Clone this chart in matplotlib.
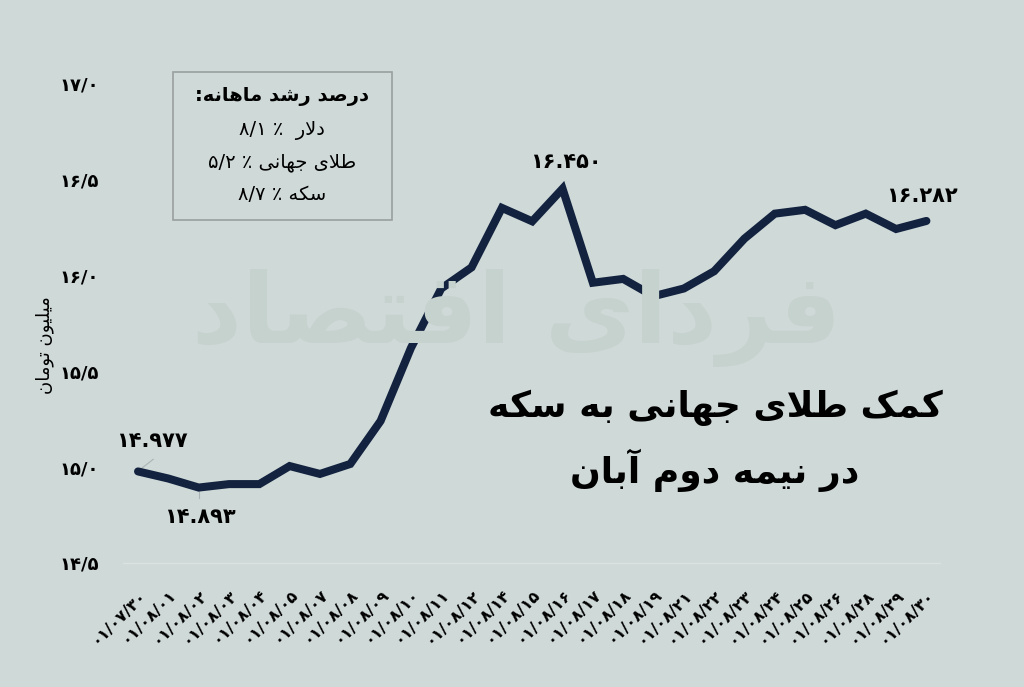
import re
import matplotlib
matplotlib.use("Agg")
import matplotlib.pyplot as plt
from matplotlib.patches import Rectangle

# simple Persian shaping (matplotlib 3.10 draws no joined Arabic script)
FORMS = {
    'ا': (0xFE8D, 0xFE8E), 'آ': (0xFE81, 0xFE82),
    'د': (0xFEA9, 0xFEAA), 'ر': (0xFEAD, 0xFEAE), 'و': (0xFEED, 0xFEEE),
    'ب': (0xFE8F, 0xFE90, 0xFE91, 0xFE92), 'ت': (0xFE95, 0xFE96, 0xFE97, 0xFE98),
    'ج': (0xFE9D, 0xFE9E, 0xFE9F, 0xFEA0), 'س': (0xFEB1, 0xFEB2, 0xFEB3, 0xFEB4),
    'ش': (0xFEB5, 0xFEB6, 0xFEB7, 0xFEB8), 'ص': (0xFEB9, 0xFEBA, 0xFEBB, 0xFEBC),
    'ط': (0xFEC1, 0xFEC2, 0xFEC3, 0xFEC4), 'ف': (0xFED1, 0xFED2, 0xFED3, 0xFED4),
    'ق': (0xFED5, 0xFED6, 0xFED7, 0xFED8), 'ل': (0xFEDD, 0xFEDE, 0xFEDF, 0xFEE0),
    'م': (0xFEE1, 0xFEE2, 0xFEE3, 0xFEE4), 'ن': (0xFEE5, 0xFEE6, 0xFEE7, 0xFEE8),
    'ه': (0xFEE9, 0xFEEA, 0xFEEB, 0xFEEC), 'ی': (0xFBFC, 0xFBFD, 0xFBFE, 0xFBFF),
    'ک': (0xFB8E, 0xFB8F, 0xFB90, 0xFB91),
}


def fa(text):
    out = []
    i = 0
    n = len(text)
    while i < n:
        ch = text[i]
        if ch not in FORMS:
            out.append(ch)
            i += 1
            continue
        prev = text[i - 1] if i > 0 else ''
        prev_join = prev in FORMS and len(FORMS[prev]) == 4
        if ch == 'ل' and i + 1 < n and text[i + 1] == 'ا':
            out.append(chr(0xFEFC if prev_join else 0xFEFB))
            i += 2
            continue
        nxt = text[i + 1] if i + 1 < n else ''
        forms = FORMS[ch]
        next_join = len(forms) == 4 and nxt in FORMS
        if prev_join and next_join:
            out.append(chr(forms[3]))
        elif prev_join:
            out.append(chr(forms[1]))
        elif next_join:
            out.append(chr(forms[2]))
        else:
            out.append(chr(forms[0]))
        i += 1
    vis = ''.join(out)[::-1]
    return re.sub(r'[۰-۹][۰-۹/.]*[۰-۹]|[۰-۹]', lambda m: m.group()[::-1], vis)


dates = ['۰۱/۰۷/۳۰', '۰۱/۰۸/۰۱', '۰۱/۰۸/۰۲', '۰۱/۰۸/۰۳', '۰۱/۰۸/۰۴', '۰۱/۰۸/۰۵',
         '۰۱/۰۸/۰۷', '۰۱/۰۸/۰۸', '۰۱/۰۸/۰۹', '۰۱/۰۸/۱۰', '۰۱/۰۸/۱۱', '۰۱/۰۸/۱۲',
         '۰۱/۰۸/۱۴', '۰۱/۰۸/۱۵', '۰۱/۰۸/۱۶', '۰۱/۰۸/۱۷', '۰۱/۰۸/۱۸', '۰۱/۰۸/۱۹',
         '۰۱/۰۸/۲۱', '۰۱/۰۸/۲۲', '۰۱/۰۸/۲۳', '۰۱/۰۸/۲۴', '۰۱/۰۸/۲۵', '۰۱/۰۸/۲۶',
         '۰۱/۰۸/۲۸', '۰۱/۰۸/۲۹', '۰۱/۰۸/۳۰']
price = [14.977, 14.94, 14.893, 14.911, 14.911, 15.005, 14.964, 15.016, 15.24,
         15.62, 15.93, 16.04, 16.35, 16.28, 16.45, 15.96, 15.98, 15.89, 15.93,
         16.02, 16.19, 16.32, 16.34, 16.26, 16.32, 16.24, 16.282]
yticks = [14.5, 15.0, 15.5, 16.0, 16.5, 17.0]
ytick_labels = ['۱۴/۵', '۱۵/۰', '۱۵/۵', '۱۶/۰', '۱۶/۵', '۱۷/۰']

bg = '#cfd9d8'
navy = '#13233f'

plt.rcParams['font.family'] = 'DejaVu Sans'

fig = plt.figure(figsize=(10.24, 6.87), dpi=100, facecolor=bg)
ax = fig.add_axes([0.120, 0.1805, 0.798, 0.6985])
ax.set_facecolor('none')

# faint watermark
fig.text(0.505, 1 - 318 / 687, fa('فردای اقتصاد'), fontsize=70, color='#c6d2ce',
         ha='center', va='center', fontweight='bold', zorder=0)

x = list(range(len(price)))
ax.plot(x, price, color=navy, linewidth=5.8, solid_capstyle='round',
        solid_joinstyle='miter', zorder=3)

ax.set_xlim(-0.5, 26.45)
ax.set_ylim(14.5, 17.0)
ax.set_yticks(yticks)
ax.set_yticklabels(ytick_labels, fontsize=13, fontweight='bold')
ax.set_xticks(x)
ax.set_xticklabels(dates, rotation=45, ha='right', va='top',
                   rotation_mode='anchor', fontsize=11.5, fontweight='bold')
ax.tick_params(axis='both', length=0)
ax.tick_params(axis='y', pad=17)
ax.tick_params(axis='x', pad=17)
for side in ['top', 'right', 'left']:
    ax.spines[side].set_visible(False)
ax.spines['bottom'].set_color('#dbe3e2')
ax.spines['bottom'].set_linewidth(1.0)

ax.set_ylabel(fa('میلیون تومان'), fontsize=13)
ax.yaxis.set_label_coords(-0.084, 0.455)

# value labels
ax.plot([0.05, 0.5], [14.985, 15.04], color='#aab4b4', linewidth=0.8)
ax.text(0.46, 15.135, '۱۴.۹۷۷', fontsize=15, fontweight='bold', ha='center', va='center')
ax.plot([2, 2], [14.89, 14.84], color='#aab4b4', linewidth=0.8)
ax.text(2.05, 14.74, '۱۴.۸۹۳', fontsize=15, fontweight='bold', ha='center', va='center')
ax.text(14.1, 16.59, '۱۶.۴۵۰', fontsize=15, fontweight='bold', ha='center', va='center')
ax.text(25.85, 16.41, '۱۶.۲۸۲', fontsize=15, fontweight='bold', ha='center', va='center')

# growth box
fig.patches.append(Rectangle((173 / 1024, 1 - 220 / 687), 219 / 1024, 148 / 687,
                             transform=fig.transFigure, facecolor='none',
                             edgecolor='#9a9f9f', linewidth=1.2))
fig.text(282 / 1024, 1 - 96 / 687, fa('درصد رشد ماهانه:'), fontsize=14,
         fontweight='bold', ha='center', va='center')
fig.text(282 / 1024, 1 - 130 / 687, fa('دلار  ٪ ۸/۱'), fontsize=14, ha='center', va='center')
fig.text(282 / 1024, 1 - 162 / 687, fa('طلای جهانی ٪ ۵/۲'), fontsize=14, ha='center', va='center')
fig.text(282 / 1024, 1 - 195 / 687, fa('سکه ٪ ۸/۷'), fontsize=14, ha='center', va='center')

# headline
fig.text(715 / 1024, 1 - 408 / 687, fa('کمک طلای جهانی به سکه'), fontsize=26,
         fontweight='bold', ha='center', va='center')
fig.text(715 / 1024, 1 - 470 / 687, fa('در نیمه دوم آبان'), fontsize=26,
         fontweight='bold', ha='center', va='center')

fig.savefig('out.png', dpi=100, facecolor=bg)
